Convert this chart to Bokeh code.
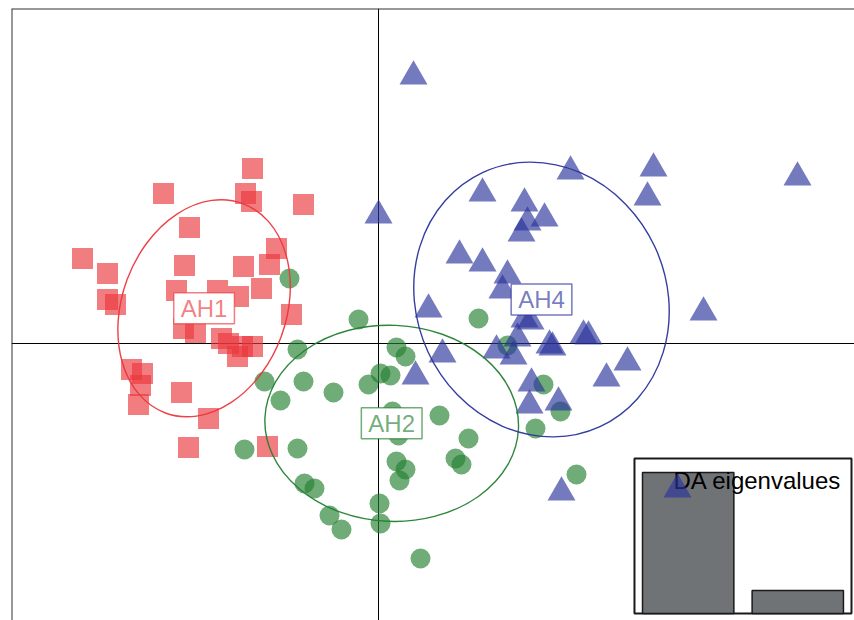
import numpy as np
from bokeh.plotting import figure
from bokeh.models import Range1d, Span, Label
from bokeh.embed import file_html
from bokeh.resources import INLINE
from bokeh.core.properties import value

FONT = "Liberation Sans"

# ---------------- data ----------------
groups = ["AH1", "AH2", "AH4"]
group_colors = ["#EB373C", "#238030", "#2A339B"]
group_markers = ["square", "circle", "triangle"]
marker_sizes = [21, 20, 28]

ah1_ld1 = [-2.52, -4.30, -2.66, -2.54, -1.50, -3.78, -2.04, -5.92, -5.42, -3.88,
           -2.70, -2.18, -2.34, -5.42, -5.26, -4.04, -3.22, -2.80, -1.74, -3.90,
           -3.66, -3.14, -3.00, -2.72, -2.52, -2.82, -4.94, -4.72, -4.76, -4.80,
           -3.94, -3.40, -3.80, -2.22]
ah1_ld2 = [3.50, 3.00, 3.00, 2.84, 2.78, 2.32, 1.90, 1.70, 1.40, 1.56,
           1.54, 1.58, 1.10, 0.88, 0.78, 1.06, 1.06, 0.94, 0.58, 0.30,
           0.22, 0.10, 0.00, -0.06, -0.06, -0.26, -0.52, -0.60, -0.84, -1.22,
           -0.98, -1.50, -2.08, -2.06]

ah2_ld1 = [-1.78, -0.40, -1.62, -2.28, -1.50, -1.96, -0.90, -0.20, 0.04, 0.24,
           0.36, 0.54, 0.28, 0.40, 1.22, -2.68, -1.62, 0.36, 0.54, 0.42,
           -1.48, -1.28, 0.02, 0.04, -0.98, -0.74, 0.84, 2.00, 2.58, 3.30,
           3.64, 3.14, 1.80, 1.54, 1.66, 3.96]
ah2_ld2 = [1.30, 0.48, -0.12, -0.76, -0.76, -1.14, -0.98, -0.82, -0.60, -0.64,
           -0.08, -0.26, -1.36, -1.84, -1.44, -2.12, -2.10, -2.36, -2.52, -2.74,
           -2.80, -2.90, -3.20, -3.60, -3.44, -3.72, -4.30, 0.50, -0.04, -0.82,
           -1.36, -1.70, -1.90, -2.30, -2.42, -2.62]

ah4_ld1 = [0.70, 0.00, 3.84, 5.50, 5.38, 8.38, 2.08, 2.92, 3.32, 2.98,
           2.86, 1.62, 2.08, 2.58, 2.48, 1.00, 2.92, 3.04, 6.50, 4.10,
           4.20, 2.78, 3.48, 3.42, 1.28, 2.36, 2.70, 4.98, 4.56, 0.74,
           3.06, 3.02, 3.60, 3.66, 5.98]
ah4_ld2 = [5.34, 2.56, 3.44, 3.50, 2.92, 3.32, 3.00, 2.80, 2.50, 2.42,
           2.20, 1.76, 1.60, 1.36, 1.06, 0.68, 0.48, 0.44, 0.62, 0.16,
           0.14, 0.10, -0.08, -0.04, -0.22, -0.14, -0.26, -0.38, -0.70, -0.66,
           -0.80, -1.24, -1.18, -2.98, -2.92]

ld1 = [ah1_ld1, ah2_ld1, ah4_ld1]
ld2 = [ah1_ld2, ah2_ld2, ah4_ld2]

da_eigenvalues = [282.0, 46.0]

cellipse = 1.5
point_alpha = 0.65

# ---------------- figure ----------------
p = figure(width=854, height=620, output_backend="svg", toolbar_location=None,
           x_range=Range1d(-7.34, 9.52), y_range=Range1d(-5.54, 6.70),
           x_axis_location=None, y_axis_location=None,
           min_border_left=11, min_border_right=0, min_border_top=8, min_border_bottom=0)
p.title.visible = False
p.outline_line_color = None
p.background_fill_color = "white"
p.border_fill_color = "white"
p.xgrid.visible = False
p.ygrid.visible = False

# axes through the origin
p.add_layout(Span(location=0, dimension="height", line_color="black", line_width=1, level="underlay"))
p.add_layout(Span(location=0, dimension="width", line_color="black", line_width=1, level="underlay"))
# box edges (left / top)
p.add_layout(Span(location=p.x_range.start, dimension="height", line_color="#333333", line_width=2))
p.add_layout(Span(location=p.y_range.end, dimension="width", line_color="#333333", line_width=2))

# ---------------- inset: DA eigenvalues ----------------
bar_width, bar_space = 1.0, 0.2
bar_left = [bar_space + i * (bar_width + bar_space) for i in range(len(da_eigenvalues))]
bar_center = [b + bar_width / 2 for b in bar_left]
span_x = bar_left[-1] + bar_width - bar_left[0]
box_l = bar_left[0] - 0.04 * span_x
box_r = bar_left[-1] + bar_width + 0.04 * span_x
box_top = 1.1 * max(da_eigenvalues)

p.extra_x_ranges = {"ix": Range1d(-6.709, 2.521)}
p.extra_y_ranges = {"iy": Range1d(-14.0, 1210.0)}
p.quad(left=[box_l], right=[box_r], bottom=[0], top=[box_top], fill_color="white",
       line_color="#1a1a1a", line_width=2, x_range_name="ix", y_range_name="iy")
p.vbar(x=bar_center, width=bar_width, bottom=0, top=da_eigenvalues, fill_color="#707376",
       line_color="#1a1a1a", line_width=1.5, x_range_name="ix", y_range_name="iy")
p.text(x=[bar_left[-1] + bar_width - 0.02], y=[266], text=["DA eigenvalues"],
       text_font=value(FONT), text_font_size="24px", text_align="right",
       text_baseline="alphabetic", text_color="black", x_range_name="ix", y_range_name="iy")

# ---------------- points ----------------
for g, col, mk, sz, xs, ys in zip(groups, group_colors, group_markers, marker_sizes, ld1, ld2):
    p.scatter(x=xs, y=ys, marker=mk, size=sz, fill_color=col, fill_alpha=point_alpha,
              line_color=None)

# ---------------- ellipses + labels ----------------
for g, col, xs, ys in zip(groups, group_colors, ld1, ld2):
    xy = np.array([xs, ys])
    cx, cy = xy.mean(axis=1)
    cov = np.cov(xy, bias=True)
    vals, vecs = np.linalg.eigh(cov)
    major = vecs[:, 1]
    ang = float(np.arctan2(major[1], major[0]))
    p.ellipse(x=[cx], y=[cy], width=[2 * cellipse * np.sqrt(vals[1])],
              height=[2 * cellipse * np.sqrt(vals[0])], angle=[ang],
              fill_color=None, line_color=col, line_width=1.4, line_alpha=0.95)
    p.add_layout(Label(x=float(cx), y=float(cy), text=g, text_font=FONT, text_font_size="24px",
                       text_color=col, text_alpha=point_alpha, text_align="center",
                       text_baseline="middle", background_fill_color="white",
                       background_fill_alpha=1.0, border_line_color=col,
                       border_line_alpha=point_alpha, border_line_width=1.5,
                       padding=(7, 2)))

open("out.html", "w").write(file_html(p, INLINE))
